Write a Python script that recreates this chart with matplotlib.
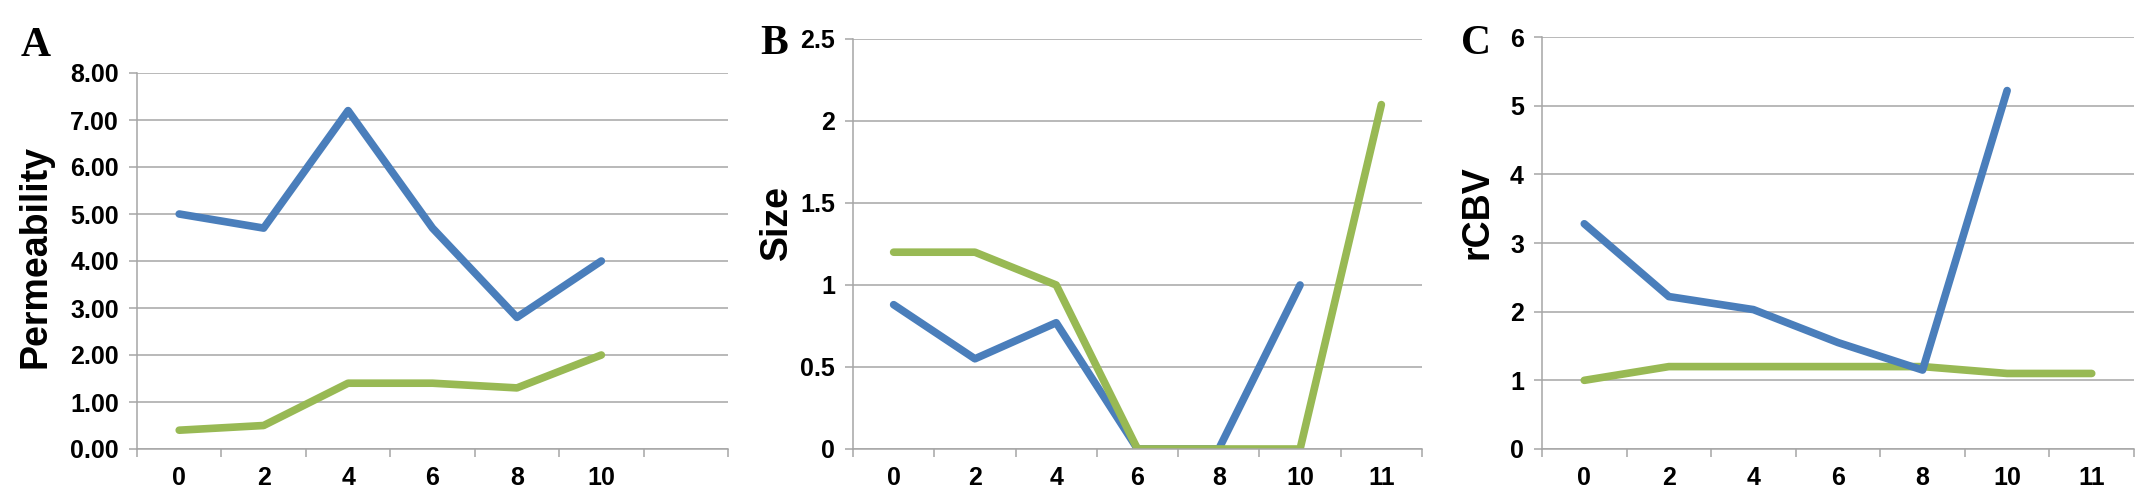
import matplotlib
matplotlib.use("Agg")
import matplotlib.pyplot as plt
import numpy as np

plt.rcParams['font.family'] = ['Liberation Sans', 'DejaVu Sans']

# categories (weeks) for each panel
cats_a = ["0", "2", "4", "6", "8", "10", ""]
cats_b = ["0", "2", "4", "6", "8", "10", "11"]
cats_c = ["0", "2", "4", "6", "8", "10", "11"]

# A - Permeability
perm_blue = [5.0, 4.7, 7.2, 4.7, 2.8, 4.0]
perm_green = [0.4, 0.5, 1.4, 1.4, 1.3, 2.0]

# B - Size
size_blue = [0.88, 0.55, 0.77, 0.0, 0.0, 1.0]
size_green = [1.2, 1.2, 1.0, 0.0, 0.0, 0.0, 2.1]

# C - rCBV
rcbv_blue = [3.28, 2.22, 2.03, 1.55, 1.15, 5.22]
rcbv_green = [1.0, 1.2, 1.2, 1.2, 1.2, 1.1, 1.1]

BLUE = "#4a7ebb"
GREEN = "#98b954"
GRID = "#a6a6a6"
LW = 5.5

W, H = 2141, 488
fig = plt.figure(figsize=(W / 100, H / 100), dpi=100)


def make_ax(left, right, top, bottom):
    return fig.add_axes([left / W, (H - bottom) / H, (right - left) / W, (bottom - top) / H])


def style(ax, cats, ymax, ystep, fmt):
    ax.set_xlim(-0.5, len(cats) - 0.5)
    ax.set_ylim(0, ymax)
    yt = np.arange(0, ymax + ystep / 2, ystep)
    ax.set_yticks(yt)
    ax.set_yticklabels([fmt.format(v) for v in yt], fontsize=18, fontweight="bold")
    ax.set_xticks(range(len(cats)))
    ax.set_xticklabels(cats, fontsize=18, fontweight="bold")
    ax.set_xticks(np.arange(-0.5, len(cats), 1.0), minor=True)
    ax.tick_params(axis="x", which="major", length=0, pad=12)
    ax.tick_params(axis="x", which="minor", length=6, width=1.1, color=GRID)
    ax.tick_params(axis="y", length=6, width=1.1, color=GRID, pad=7)
    for s in ["top", "right"]:
        ax.spines[s].set_visible(False)
    for s in ["left", "bottom"]:
        ax.spines[s].set_color(GRID)
        ax.spines[s].set_linewidth(1.1)
    ax.yaxis.grid(True, color=GRID, linewidth=1.1)
    ax.set_axisbelow(True)


ax_a = make_ax(137, 728, 73, 449)
ax_a.plot(range(len(perm_blue)), perm_blue, color=BLUE, lw=LW, solid_capstyle="round")
ax_a.plot(range(len(perm_green)), perm_green, color=GREEN, lw=LW, solid_capstyle="round")
style(ax_a, cats_a, 8, 1, "{:.2f}")

ax_b = make_ax(853, 1422, 39, 449)
ax_b.plot(range(len(size_blue)), size_blue, color=BLUE, lw=LW, solid_capstyle="round")
ax_b.plot(range(len(size_green)), size_green, color=GREEN, lw=LW, solid_capstyle="round")
style(ax_b, cats_b, 2.5, 0.5, "{:g}")

ax_c = make_ax(1542, 2134, 37, 449)
ax_c.plot(range(len(rcbv_green)), rcbv_green, color=GREEN, lw=LW, solid_capstyle="round")
ax_c.plot(range(len(rcbv_blue)), rcbv_blue, color=BLUE, lw=LW, solid_capstyle="round")
style(ax_c, cats_c, 6, 1, "{:g}")

# y labels and panel letters
for x, y, txt in [(36, 256, "Permeability"), (777, 223, "Size"), (1477, 212, "rCBV")]:
    fig.text(x / W, 1 - y / H, txt, rotation=90, ha="center", va="center",
             fontsize=27, fontweight="bold")
for x, y, txt in [(36, 46, "A"), (774, 44, "B"), (1476, 44, "C")]:
    fig.text(x / W, 1 - y / H, txt, ha="center", va="center", fontsize=30,
             fontweight="bold", family=["Liberation Serif", "DejaVu Serif"])

fig.savefig("out.png", dpi=100)
